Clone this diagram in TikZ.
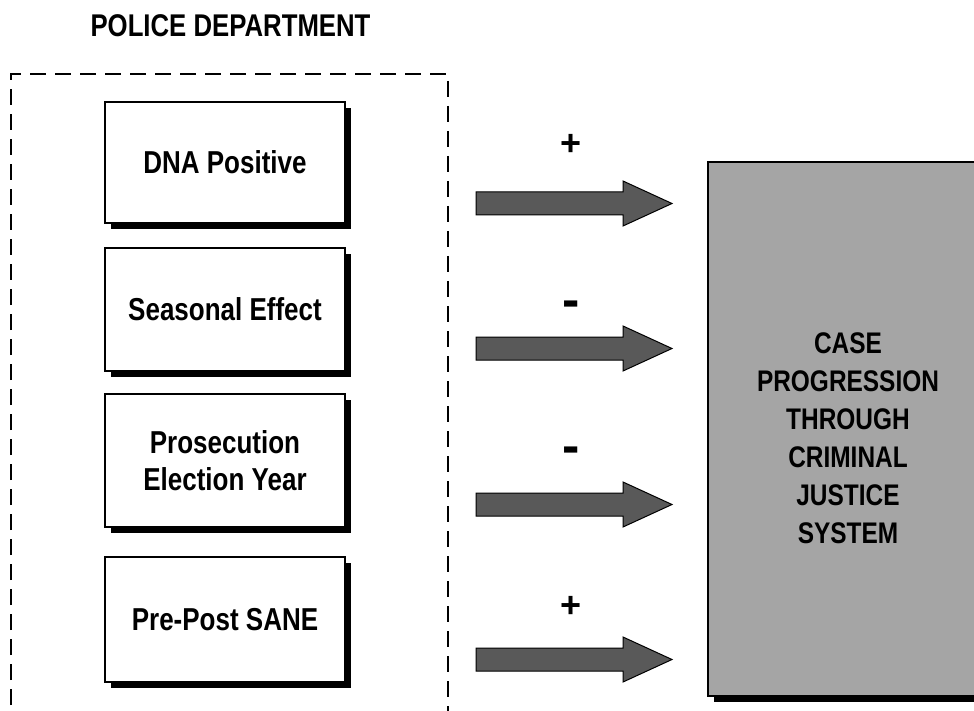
\documentclass[tikz,border=0pt]{standalone}
\usepackage{fontspec}
\setmainfont{Liberation Sans}
\newfontfamily\narrowfont{Liberation Sans}[FakeStretch=0.82]
\usetikzlibrary{shadows}
\definecolor{boxgrey}{HTML}{A5A5A5}
\definecolor{arrowgrey}{HTML}{595959}
\tikzset{
  factorbox/.style={draw=black, line width=1.6pt, fill=white, minimum width=240pt,
    align=center, inner sep=0pt,
    font=\narrowfont\bfseries\fontsize{31.7}{37}\selectfont,
    drop shadow={shadow xshift=6pt, shadow yshift=-6pt, opacity=1, fill=black}},
  blockarrow/.style={draw=black, line width=1pt, fill=arrowgrey},
  signlabel/.style={font=\bfseries\fontsize{36}{36}\selectfont, inner sep=0pt},
  dashframe/.style={draw=black, line width=2.2pt, dash pattern=on 16pt off 9pt},
}
\begin{document}
\begin{tikzpicture}[x=1pt, y=-1pt]
\clip (0,0) rectangle (974,711);
\fill[white] (0,0) rectangle (974,711);

% title
\node[font=\narrowfont\bfseries\fontsize{31.4}{34}\selectfont, anchor=base, inner sep=0pt] (title) at (230.5,37) {POLICE DEPARTMENT};

% dashed frame
\draw[dashframe] (11,730) -- (11,74) -- (448,74) -- (448,730);

% factor boxes
\node[factorbox, minimum height=121pt] (dna) at (225,162.5) {DNA Positive};
\node[factorbox, minimum height=123pt] (season) at (225,309.5) {Seasonal Effect};
\node[factorbox, minimum height=133pt] (pros) at (225,460.5) {Prosecution\\Election Year};
\node[factorbox, minimum height=125pt] (sane) at (225,619.5) {Pre-Post SANE};

% outcome box
\node[draw=black, line width=2pt, fill=boxgrey, minimum width=282pt, minimum height=534pt,
  drop shadow={shadow xshift=6pt, shadow yshift=-6pt, opacity=1, fill=black}] (cjs) at (849,429) {};
\node[font=\narrowfont\bfseries\fontsize{29.8}{38}\selectfont, align=center, inner sep=0pt] (cjstext) at (848,438)
  {CASE\\PROGRESSION\\THROUGH\\CRIMINAL\\JUSTICE\\SYSTEM};

% block arrows
\foreach \yc/\nm in {203.5/a, 348.5/b, 504.5/c, 659.5/d}{
  \draw[blockarrow] (476,\yc-11.5) -- (623,\yc-11.5) -- (623,\yc-22.5) -- (672,\yc)
     -- (623,\yc+22.5) -- (623,\yc+11.5) -- (476,\yc+11.5) -- cycle;
}

% signs
\node[signlabel] (s1) at (571,145) {+};
\node[signlabel, font=\bfseries\fontsize{52}{52}\selectfont] (s2) at (571,309) {-};
\node[signlabel, font=\bfseries\fontsize{52}{52}\selectfont] (s3) at (571,455) {-};
\node[signlabel] (s4) at (571,607) {+};
\end{tikzpicture}
\end{document}
